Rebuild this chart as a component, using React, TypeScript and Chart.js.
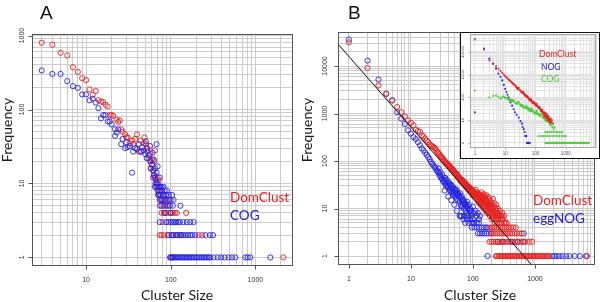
import React, { useEffect, useRef } from "react";
import { Chart, registerables } from "chart.js";

Chart.register(...registerables);

type Pt = [number, number];

// ---------- tick labels ----------
const A_X_TICKS = [10, 100, 1000];
const A_Y_TICKS = [1, 10, 100, 1000];
const B_X_TICKS = [1, 10, 100, 1000];
const B_Y_TICKS = [1, 10, 100, 1000, 10000];
const INSET_X_TICKS = [1, 10, 100, 1000];
const INSET_Y_TICKS = [1, 10, 100, 1000, 10000];

// ---------- panel A ----------
const A_DOMCLUST: Pt[] = [
  [3, 800], [4, 750], [5, 585], [6, 540], [7, 373], [8, 323], [9, 265], [10, 250], [11, 187], [12, 158],
  [13, 178], [14, 134], [15, 128], [16, 126], [17, 116], [18, 110], [19, 84], [20, 84], [21, 82], [23, 73],
  [24, 68], [25, 71], [26, 54], [27, 50], [29, 46], [30, 42], [31, 42], [33, 35], [35, 38], [36, 34],
  [38, 40], [40, 46], [42, 27], [44, 38], [45, 27], [48, 35], [49, 42], [51, 34], [52, 30], [53, 30],
  [55, 22], [57, 20], [57, 25], [59, 16], [60, 21], [60, 18], [62, 15], [63, 13], [64, 20], [65, 28],
  [65, 12], [66, 12], [68, 10], [70, 12], [72, 11], [75, 9],
  [70, 9], [72, 8], [77, 8], [74, 7], [80, 7], [77, 6], [84, 6], [96, 6], [78, 5], [86, 5], [94, 5],
  [78, 4], [83, 4], [88, 4], [94, 4], [100, 4], [106, 4], [112, 4], [118, 4], [152, 4], [80, 3],
  [74, 2], [78, 2], [84, 2], [92, 2], [104, 2], [118, 2], [132, 2], [214, 2], [235, 2],
  [100, 1], [105, 1], [2140, 1],
];
const A_COG: Pt[] = [
  [3, 337], [4, 303], [5, 303], [6, 242], [7, 207], [8, 196], [9, 160], [10, 160], [11, 133], [12, 140],
  [13, 124], [14, 104], [15, 76], [16, 84], [17, 84], [18, 69], [19, 69], [20, 63], [22, 54], [22, 44],
  [23, 49], [24, 54], [26, 34], [27, 40], [29, 30], [30, 36], [31, 31], [33, 32], [35, 14], [36, 27],
  [38, 30], [40, 29], [42, 34], [44, 27], [46, 31], [48, 28], [50, 25], [51, 37], [52, 22], [53, 27],
  [55, 24], [57, 32], [58, 20], [58, 16], [60, 18], [61, 26], [62, 15], [62, 12], [63, 21], [64, 13],
  [65, 16], [65, 9], [66, 10], [67, 11], [68, 34], [68, 14], [70, 17], [70, 10], [72, 7], [74, 12],
  [75, 9], [78, 6],
  [68, 9], [72, 9], [78, 9], [82, 9],
  [70, 8], [74, 8], [79, 8], [85, 8], [90, 8],
  [71, 7], [76, 7], [82, 7], [88, 7], [95, 7], [104, 7],
  [74, 6], [80, 6], [86, 6], [92, 6], [100, 6], [108, 6],
  [75, 5], [82, 5], [90, 5], [98, 5], [106, 5], [130, 5],
  [85, 4], [100, 4],
  [74, 3], [88, 3], [94, 3], [100, 3], [105, 3], [110, 3], [116, 3], [122, 3], [128, 3], [141, 3],
  [155, 3], [170, 3], [186, 3],
  [95, 2], [102, 2], [108, 2], [115, 2], [121, 2], [128, 2], [135, 2], [142, 2], [150, 2], [160, 2],
  [170, 2], [180, 2], [195, 2], [257, 2], [290, 2], [316, 2],
  [98, 1], [102, 1], [106, 1], [110, 1], [114, 1], [118, 1], [122, 1], [127, 1], [132, 1], [137, 1],
  [142, 1], [148, 1], [154, 1], [160, 1], [166, 1], [173, 1], [180, 1], [188, 1], [196, 1], [205, 1],
  [214, 1], [224, 1], [235, 1], [246, 1], [258, 1], [270, 1], [282, 1], [293, 1], [321, 1], [359, 1],
  [393, 1], [434, 1], [483, 1], [530, 1], [580, 1], [760, 1], [810, 1], [870, 1], [1500, 1],
];

// ---------- panel B ----------
const B_DOMCLUST: Pt[] = [
  [1, 31600], [2, 9100], [3, 3900], [4, 2600], [5, 1900], [6, 1370], [7, 1070], [8, 870], [9, 720], [10, 640],
  [11, 565], [12, 460], [13, 430], [14, 410], [15, 350], [16, 330], [17, 297], [18, 270], [19, 250], [20, 225],
  [21, 215], [22, 205], [23, 198], [24, 188], [25, 182], [26, 165], [27, 152], [28, 145], [29, 138], [30, 128],
  [31, 122], [32, 118], [33, 110], [34, 104], [35, 100], [36, 96], [37, 92], [38, 90], [39, 86], [40, 84],
  [41, 78], [42, 80], [43, 76], [44, 72], [45, 70], [46, 68], [47, 65], [48, 62], [49, 64], [50, 60],
  [51, 57], [52, 56], [53, 54], [54, 52], [55, 50], [56, 53], [57, 48], [58, 47], [59, 45], [60, 45],
  [61, 44], [62, 42], [63, 38], [64, 40], [65, 41], [66, 38], [67, 36], [68, 37], [69, 39], [70, 35],
  [71, 34], [72, 33], [73, 31], [74, 36], [75, 32], [76, 30], [77, 33], [78, 30], [79, 28], [80, 29],
  [81, 31], [82, 26], [83, 27], [84, 29], [85, 27], [86, 25], [87, 28], [88, 24], [89, 26], [90, 26],
  [91, 27], [92, 23], [93, 22], [94, 25], [95, 24], [96, 21], [97, 23], [98, 24], [99, 19], [100, 24],
  [101, 23], [102, 21], [103, 20], [105, 22], [106, 18], [108, 21], [110, 17], [111, 25], [112, 20], [114, 16],
  [115, 22], [116, 19], [118, 15], [119, 21], [120, 18], [122, 14], [123, 20], [124, 17], [126, 13], [127, 19],
  [128, 16], [130, 20], [132, 15], [133, 18], [134, 12], [136, 14], [137, 22], [138, 18], [140, 13], [141, 16],
  [142, 11], [144, 19], [145, 15], [147, 12], [148, 17], [150, 10], [151, 20], [152, 14], [154, 16], [155, 11],
  [157, 13], [158, 18], [160, 9], [162, 12], [163, 15], [165, 10], [166, 19], [168, 14], [170, 8], [171, 12],
  [173, 11], [175, 16], [176, 9], [178, 13], [179, 12], [181, 17], [182, 8], [184, 11], [185, 10], [187, 14],
  [188, 7], [190, 12], [191, 9], [193, 15], [195, 11], [197, 8], [198, 13], [201, 6], [203, 10], [205, 9],
  [207, 12], [209, 7], [211, 16], [213, 10], [215, 8], [217, 6], [219, 11], [221, 8], [223, 13], [225, 5],
  [228, 9], [230, 7], [233, 10], [235, 6], [238, 12], [240, 9], [243, 7], [245, 5], [248, 8], [250, 7],
  [253, 10], [255, 6], [258, 8], [262, 5], [266, 7], [270, 7], [275, 9], [280, 6], [285, 5], [290, 7],
  [295, 6], [300, 8], [310, 6], [317, 7],
  [320, 5], [335, 5], [350, 5],
  [190, 4], [205, 4], [220, 4], [240, 4], [260, 4], [280, 4], [300, 4], [325, 4], [350, 4], [380, 4],
  [410, 4], [445, 4], [490, 4],
  [200, 3], [215, 3], [230, 3], [250, 3], [270, 3], [290, 3], [315, 3], [340, 3], [365, 3], [395, 3],
  [430, 3], [470, 3], [510, 3], [560, 3], [610, 3],
  [185, 2], [200, 2], [215, 2], [232, 2], [250, 2], [270, 2], [290, 2], [315, 2], [340, 2], [370, 2],
  [400, 2], [440, 2], [480, 2], [530, 2], [580, 2], [640, 2], [700, 2], [800, 2], [900, 2],
  [235, 1], [248, 1], [262, 1], [276, 1], [291, 1], [307, 1], [324, 1], [342, 1], [361, 1], [381, 1],
  [402, 1], [424, 1], [447, 1], [472, 1], [498, 1], [525, 1], [554, 1], [585, 1], [617, 1], [651, 1],
  [687, 1], [725, 1], [765, 1], [807, 1], [852, 1], [899, 1], [948, 1], [1000, 1], [1055, 1], [1113, 1],
  [1175, 1], [1240, 1], [1310, 1], [1380, 1], [1455, 1], [1535, 1], [1620, 1], [1710, 1], [6900, 1],
];
const B_EGGNOG: Pt[] = [
  [1, 36000], [2, 13000], [3, 5200], [4, 2600], [5, 1900], [6, 1070], [7, 780], [8, 600], [9, 445], [10, 380],
  [11, 320], [12, 290], [13, 250], [14, 215], [15, 185], [16, 168], [17, 150], [18, 135], [19, 122], [20, 110],
  [21, 96], [22, 88], [23, 82], [24, 75], [25, 72], [26, 64], [27, 60], [28, 70], [28, 56], [29, 50],
  [30, 58], [30, 48], [31, 44], [32, 52], [32, 42], [33, 38], [34, 45], [34, 36], [35, 40], [35, 24],
  [36, 33], [36, 44], [37, 30], [38, 34], [38, 40], [39, 29], [40, 27], [40, 36], [40, 18], [41, 31],
  [42, 25], [42, 34], [43, 24], [44, 28], [44, 32], [45, 22], [45, 15], [46, 26], [46, 30], [47, 20],
  [48, 23], [48, 28], [49, 19], [50, 21], [50, 26], [50, 12], [52, 18], [52, 24], [53, 22], [54, 25],
  [55, 16], [55, 9], [56, 20], [56, 22], [58, 15], [58, 20], [59, 18], [60, 19], [61, 14], [61, 7],
  [62, 17], [62, 21], [64, 12], [64, 7], [65, 11], [66, 15], [66, 18], [68, 11], [68, 16], [70, 13],
  [70, 15], [72, 10], [72, 14], [74, 12], [75, 13], [76, 9], [78, 11], [78, 12], [80, 8], [80, 14],
  [82, 10], [83, 11], [85, 7], [86, 12], [88, 9], [90, 6], [90, 10], [93, 8], [95, 9], [96, 7],
  [100, 5], [100, 11], [105, 8], [110, 9], [115, 7], [120, 8], [125, 6], [130, 7],
  [65, 7], [72, 7], [80, 7],
  [70, 6], [80, 6], [100, 6],
  [75, 5], [85, 5], [95, 5], [105, 5], [115, 5], [125, 5],
  [96, 4], [106, 4], [116, 4], [126, 4], [138, 4], [150, 4], [162, 4], [172, 4],
  [120, 3], [130, 3], [140, 3], [152, 3], [165, 3], [180, 3], [195, 3], [660, 3],
  [250, 2], [300, 2], [420, 2], [520, 2], [650, 2],
  [172, 1], [1900, 1], [2050, 1], [2250, 1], [2500, 1], [2800, 1], [3200, 1], [3600, 1], [4400, 1], [5300, 1],
  [6700, 1],
];
// power-law fit line, read at the plot edges
const B_FIT: Pt[] = [[0.668, 29000], [890, 0.65]];

// ---------- inset ----------
const INSET_DOMCLUST: Pt[] = [
  [1, 35000], [2, 12500], [3, 4200], [4, 3000], [5, 2300], [6, 1800], [7, 1450], [8, 1200], [9, 1000], [10, 850],
  [11, 760], [12, 680], [13, 600], [14, 560], [15, 520], [16, 470], [17, 430], [18, 400], [19, 380], [20, 350],
  [22, 320], [23, 290], [24, 270], [25, 230], [26, 250], [27, 240], [28, 260], [30, 210], [32, 200], [34, 180],
  [35, 170], [36, 165], [38, 155], [40, 175], [42, 145], [43, 135], [45, 120], [46, 130], [48, 118], [50, 112],
  [52, 105], [54, 100], [55, 110], [58, 95], [60, 88], [62, 80], [65, 72], [67, 78], [70, 85], [72, 75],
  [75, 68], [78, 65], [80, 55], [84, 60], [86, 58], [90, 62], [94, 52], [96, 55], [100, 48], [102, 44],
  [105, 45], [110, 52], [115, 42], [118, 39], [120, 40], [125, 37], [130, 34], [135, 32], [140, 36], [145, 30],
  [150, 25], [155, 28], [160, 26], [165, 24], [170, 28], [175, 23], [180, 21], [185, 17], [190, 20], [195, 16],
  [200, 22], [205, 18], [210, 14], [215, 20], [220, 16], [225, 13], [230, 19], [235, 17], [240, 14], [245, 15],
  [250, 11], [255, 13], [260, 12], [265, 10], [270, 15], [275, 12], [280, 10], [285, 11], [290, 8], [300, 9],
  [310, 10], [320, 12], [330, 8], [350, 10], [380, 7],
];
const INSET_COG: Pt[] = [
  [1, 200], [3, 100], [4, 115], [5, 120], [6, 105], [7, 90], [8, 100], [9, 110], [10, 95], [11, 90],
  [12, 95], [13, 85], [14, 78], [15, 70], [16, 80], [17, 68], [18, 75], [19, 72], [20, 65], [22, 55],
  [24, 52], [25, 60], [26, 58], [28, 62], [30, 50], [32, 48], [33, 45], [35, 40], [36, 43], [38, 44],
  [40, 35], [42, 36], [45, 38], [48, 34], [50, 42], [52, 36], [55, 33], [58, 28], [60, 31], [62, 33],
  [65, 25], [68, 26], [70, 28], [72, 24], [75, 32], [80, 27], [85, 25], [90, 20], [95, 21], [100, 22],
  [105, 19], [110, 26], [115, 22], [120, 19], [125, 18], [130, 17], [140, 15], [147, 16], [150, 18], [160, 20],
  [170, 14], [180, 13], [190, 12], [200, 14], [210, 10], [216, 11], [230, 9], [240, 10], [250, 9], [260, 12],
  [270, 9], [280, 8], [300, 7], [310, 8], [320, 6], [330, 7], [350, 8], [360, 5], [400, 4], [420, 5],
  [216, 3], [250, 3], [290, 3], [340, 3], [400, 3], [470, 3], [550, 3], [650, 3], [780, 3],
  [125, 2], [150, 2], [180, 2], [210, 2], [250, 2], [300, 2], [360, 2], [430, 2], [520, 2], [620, 2],
  [750, 2], [900, 2], [1000, 2],
  [216, 1], [240, 1], [260, 1], [285, 1], [310, 1], [340, 1], [370, 1], [400, 1], [440, 1], [480, 1],
  [530, 1], [580, 1], [640, 1], [700, 1], [760, 1], [830, 1], [900, 1], [990, 1], [1080, 1], [1180, 1],
  [1300, 1], [1420, 1], [1550, 1], [1700, 1], [1850, 1], [2000, 1], [2200, 1], [2400, 1], [2650, 1], [2900, 1],
  [3200, 1], [3500, 1], [3800, 1], [4200, 1], [4600, 1], [5200, 1], [5800, 1],
];
const INSET_NOG: Pt[] = [
  [1, 22], [2, 13800], [3, 5000], [4, 3000], [5, 1800], [6, 1090], [7, 800], [8, 550], [9, 350], [10, 235],
  [11, 170], [12, 130], [13, 100], [14, 75], [15, 60], [17, 43], [19, 30], [21, 22], [24, 17], [28, 13],
  [32, 9], [36, 7], [38, 5], [41, 4], [44, 3], [46, 2], [48, 2], [50, 2], [52, 1], [56, 1],
  [60, 1], [65, 1],
];

// ---------- styling ----------
const RED = "rgba(228, 34, 34, 0.9)";
const BLUE = "rgba(36, 36, 226, 0.9)";
const GREEN = "rgba(70, 205, 50, 0.95)";
const RED_TXT = "#e42222";
const BLUE_TXT = "#2020d2";
const GREEN_TXT = "#4cc43a";
const TITLE_FONT = "14px Lato";
const LEGEND_FONT = "13.5px Lato";
const TICK_FONT = '7px "Liberation Sans"';

type TextItem = {
  text: string; x: number; y: number; font: string; color: string;
  align?: CanvasTextAlign; rotate?: boolean;
};
type Decor = {
  xTicks: number[]; yTicks: number[]; tickFont: string; tickColor: string;
  xLabelY: number; yLabelX: number; tickLen: number; frameColor: string;
  texts: TextItem[]; box?: { x: number; y: number; w: number; h: number };
};

const toXY = (pts: Pt[]) => pts.map(([x, y]) => ({ x, y }));

function gridValues(min: number, max: number): number[] {
  const out: number[] = [];
  for (let e = 0; e <= Math.ceil(Math.log10(max)); e++) {
    for (let m = 1; m <= 9; m++) {
      const v = m * Math.pow(10, e);
      if (v >= min && v <= max) out.push(v);
    }
  }
  return out;
}

function logAxis(min: number, max: number, gridColor: string) {
  return {
    type: "logarithmic" as const,
    min,
    max,
    ticks: { display: false },
    grid: { color: gridColor, lineWidth: 1, drawTicks: false },
    border: { display: false },
    afterBuildTicks: (scale: any) => {
      scale.ticks = gridValues(min, max).map((v) => ({ value: v }));
    },
  };
}

function decorPlugin(d: Decor) {
  return {
    id: "decor",
    beforeDraw(chart: any) {
      if (!d.box) return;
      const ctx = chart.ctx;
      ctx.save();
      ctx.fillStyle = "#ffffff";
      ctx.fillRect(d.box.x, d.box.y, d.box.w, d.box.h);
      ctx.strokeStyle = "#111111";
      ctx.lineWidth = 1;
      ctx.strokeRect(d.box.x + 0.5, d.box.y + 0.5, d.box.w - 1, d.box.h - 1);
      ctx.restore();
    },
    afterDraw(chart: any) {
      const ctx = chart.ctx;
      const a = chart.chartArea;
      const xs = chart.scales.x;
      const ys = chart.scales.y;
      ctx.save();
      ctx.strokeStyle = d.frameColor;
      ctx.lineWidth = 1;
      const L = Math.round(a.left) + 0.5, T = Math.round(a.top) + 0.5;
      const R = Math.round(a.right) - 0.5, B = Math.round(a.bottom) - 0.5;
      ctx.strokeRect(L, T, R - L, B - T);
      ctx.fillStyle = d.tickColor;
      ctx.font = d.tickFont;
      ctx.textAlign = "center";
      ctx.textBaseline = "middle";
      ctx.beginPath();
      for (const v of d.xTicks) {
        const px = Math.round(xs.getPixelForValue(v)) + 0.5;
        ctx.moveTo(px, B);
        ctx.lineTo(px, B + d.tickLen);
      }
      for (const v of d.yTicks) {
        const py = Math.round(ys.getPixelForValue(v)) + 0.5;
        ctx.moveTo(L, py);
        ctx.lineTo(L - d.tickLen, py);
      }
      ctx.stroke();
      for (const v of d.xTicks) {
        ctx.fillText(String(v), xs.getPixelForValue(v), d.xLabelY);
      }
      for (const v of d.yTicks) {
        ctx.save();
        ctx.translate(d.yLabelX, ys.getPixelForValue(v));
        ctx.rotate(-Math.PI / 2);
        ctx.fillText(String(v), 0, 0);
        ctx.restore();
      }
      ctx.textBaseline = "alphabetic";
      for (const t of d.texts) {
        ctx.font = t.font;
        ctx.fillStyle = t.color;
        ctx.textAlign = t.align || "left";
        if (t.rotate) {
          ctx.save();
          ctx.translate(t.x, t.y);
          ctx.rotate(-Math.PI / 2);
          ctx.fillText(t.text, 0, 0);
          ctx.restore();
        } else {
          ctx.fillText(t.text, t.x, t.y);
        }
      }
      ctx.restore();
    },
  };
}

function circles(data: Pt[], color: string) {
  return {
    data: toXY(data),
    borderColor: color,
    backgroundColor: "rgba(0,0,0,0)",
    pointBorderColor: color,
    pointBackgroundColor: "rgba(0,0,0,0)",
    pointRadius: 2.6,
    pointBorderWidth: 1,
    pointStyle: "circle",
    showLine: false,
  };
}
function dots(data: Pt[], color: string) {
  return {
    data: toXY(data),
    borderColor: color,
    backgroundColor: color,
    pointBorderColor: color,
    pointBackgroundColor: color,
    pointRadius: 1.1,
    pointBorderWidth: 0,
    pointStyle: "circle",
    showLine: false,
  };
}

function makeChart(
  canvas: HTMLCanvasElement,
  datasets: any[],
  pad: { left: number; top: number; right: number; bottom: number },
  xr: [number, number],
  yr: [number, number],
  gridColor: string,
  decor: Decor
) {
  return new Chart(canvas, {
    type: "scatter",
    data: { datasets },
    options: {
      animation: false,
      responsive: false,
      devicePixelRatio: 1,
      events: [],
      layout: { padding: pad },
      plugins: { legend: { display: false }, tooltip: { enabled: false }, title: { display: false } },
      scales: { x: logAxis(xr[0], xr[1], gridColor) as any, y: logAxis(yr[0], yr[1], gridColor) as any },
    },
    plugins: [decorPlugin(decor)],
  } as any);
}

export default function App() {
  const aRef = useRef<HTMLCanvasElement>(null);
  const bRef = useRef<HTMLCanvasElement>(null);
  const iRef = useRef<HTMLCanvasElement>(null);

  useEffect(() => {
    const charts: Chart[] = [];
    charts.push(
      makeChart(
        aRef.current!,
        [circles(A_COG, BLUE), circles(A_DOMCLUST, RED)],
        { left: 32, top: 34, right: 307, bottom: 36 },
        [2.3, 2780],
        [0.765, 1050],
        "#cccccc",
        {
          xTicks: A_X_TICKS, yTicks: A_Y_TICKS, tickFont: TICK_FONT, tickColor: "#333333",
          xLabelY: 280, yLabelX: 22, tickLen: 4, frameColor: "#555555",
          texts: [
            { text: "A", x: 40, y: 18.5, font: '19px "Liberation Sans"', color: "#111111" },
            { text: "Frequency", x: 12, y: 130, font: TITLE_FONT, color: "#1a1a1a", align: "center", rotate: true },
            { text: "Cluster Size", x: 177, y: 300, font: TITLE_FONT, color: "#1a1a1a", align: "center" },
            { text: "DomClust", x: 230, y: 201.5, font: LEGEND_FONT, color: RED_TXT },
            { text: "COG", x: 230, y: 220, font: LEGEND_FONT, color: BLUE_TXT },
          ],
        }
      )
    );
    charts.push(
      makeChart(
        bRef.current!,
        [
          {
            data: toXY(B_FIT), showLine: true, borderColor: "#111111", borderWidth: 1,
            pointRadius: 0, backgroundColor: "#111111",
          },
          circles(B_DOMCLUST, RED),
          circles(B_EGGNOG, BLUE),
        ],
        { left: 338, top: 32, right: 1, bottom: 37 },
        [0.668, 9300],
        [0.65, 52000],
        "#cccccc",
        {
          xTicks: B_X_TICKS, yTicks: B_Y_TICKS, tickFont: TICK_FONT, tickColor: "#333333",
          xLabelY: 279, yLabelX: 325, tickLen: 4, frameColor: "#555555",
          texts: [
            { text: "B", x: 348, y: 18.5, font: '19px "Liberation Sans"', color: "#111111" },
            { text: "Frequency", x: 312, y: 130, font: TITLE_FONT, color: "#1a1a1a", align: "center", rotate: true },
            { text: "Cluster Size", x: 480, y: 300, font: TITLE_FONT, color: "#1a1a1a", align: "center" },
            { text: "DomClust", x: 533, y: 205, font: LEGEND_FONT, color: RED_TXT },
            { text: "eggNOG", x: 533, y: 222.5, font: LEGEND_FONT, color: BLUE_TXT },
          ],
        }
      )
    );
    charts.push(
      makeChart(
        iRef.current!,
        [dots(INSET_DOMCLUST, RED), dots(INSET_COG, GREEN), dots(INSET_NOG, BLUE)],
        { left: 470, top: 34, right: 3, bottom: 154 },
        [0.69, 10000],
        [0.63, 60000],
        "#e2e2e2",
        {
          xTicks: INSET_X_TICKS, yTicks: INSET_Y_TICKS, tickFont: '4.5px "Liberation Sans"', tickColor: "#555555",
          xLabelY: 153.5, yLabelX: 463, tickLen: 2, frameColor: "#aaaaaa",
          box: { x: 460, y: 32, w: 140, h: 127 },
          texts: [
            { text: "DomClust", x: 539, y: 57, font: "8.5px Lato", color: RED_TXT },
            { text: "NOG", x: 541, y: 69.5, font: "8.5px Lato", color: BLUE_TXT },
            { text: "COG", x: 541, y: 81.5, font: "8.5px Lato", color: GREEN_TXT },
          ],
        }
      )
    );
    return () => charts.forEach((c) => c.destroy());
  }, []);

  const cs: React.CSSProperties = { position: "absolute", left: 0, top: 0 };
  return (
    <div style={{ position: "fixed", left: 0, top: 0, width: 600, height: 302, background: "#ffffff", overflow: "hidden" }}>
      <canvas ref={aRef} width={600} height={302} style={cs} />
      <canvas ref={bRef} width={600} height={302} style={cs} />
      <canvas ref={iRef} width={600} height={302} style={cs} />
    </div>
  );
}
